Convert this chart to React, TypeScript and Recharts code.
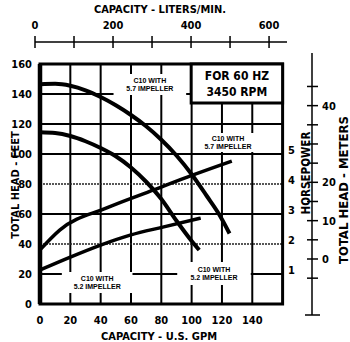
import { LineChart, Line, XAxis, YAxis, ReferenceLine, ReferenceArea } from 'recharts';

// capacity (US gpm) / head (ft) and horsepower curves
const head57 = [
  { q: 0, v: 146.5 }, { q: 10, v: 146.8 }, { q: 20, v: 145.5 }, { q: 30, v: 142.5 },
  { q: 40, v: 138 }, { q: 50, v: 132.5 }, { q: 60, v: 126 }, { q: 70, v: 118.5 },
  { q: 80, v: 109.5 }, { q: 90, v: 99 }, { q: 100, v: 86.5 }, { q: 110, v: 72 },
  { q: 118, v: 60 }, { q: 125, v: 47 },
];
const head52 = [
  { q: 0, v: 114.5 }, { q: 10, v: 114 }, { q: 20, v: 112 }, { q: 30, v: 108.5 },
  { q: 40, v: 104 }, { q: 50, v: 98.5 }, { q: 60, v: 91 }, { q: 70, v: 81.5 },
  { q: 80, v: 70 }, { q: 90, v: 55.5 }, { q: 100, v: 42 }, { q: 105, v: 36 },
];
const hp57 = [
  { q: 0, v: 1.67 }, { q: 13, v: 2.33 }, { q: 44, v: 3.07 }, { q: 75, v: 3.67 },
  { q: 101, v: 4.17 }, { q: 126.5, v: 4.63 },
];
const hp52 = [
  { q: 0, v: 1.0 }, { q: 20, v: 1.43 }, { q: 40, v: 1.83 }, { q: 60, v: 2.17 },
  { q: 81, v: 2.43 }, { q: 106, v: 2.73 },
];

const gpmTicks = [0, 20, 40, 60, 80, 100, 120, 140];
const gridGpm = [20, 40, 60, 80, 100, 120, 140];
const feetTicks = [0, 20, 40, 60, 80, 100, 120, 140, 160];
const gridFeet = [20, 40, 60, 80, 100, 120, 140];
const dottedFeet = [40, 80];
const literTicks = [0, 100, 200, 300, 400, 500, 600];
const literLabels = [0, 200, 400, 600];
const hpTicks = [1, 2, 3, 4, 5];
const meterTicks = [-5, 0, 5, 10, 15, 20, 25, 30, 35, 40, 45];
const meterLabels = [0, 10, 20, 40];

const FONT = "'DejaVu Sans Condensed', 'DejaVu Sans', sans-serif";
const SMALL = "'Liberation Sans', Arial, sans-serif";

function Title(props: any) {
  const { t, px, py, rot = 0, fs = 11 } = props;
  return (
    <text
      x={px}
      y={py}
      transform={rot ? `rotate(${rot} ${px} ${py})` : undefined}
      textAnchor="middle"
      dominantBaseline="central"
      fontFamily={FONT}
      fontWeight="bold"
      fontSize={fs}
      fill="#000"
    >
      {t}
    </text>
  );
}

function BoxText(props: any) {
  const { viewBox, rows, fs = 7, gap = 8, family = SMALL } = props;
  const cx = viewBox.x + viewBox.width / 2;
  const cy = viewBox.y + viewBox.height / 2;
  return (
    <text textAnchor="middle" fontFamily={family} fontWeight="bold" fontSize={fs} fill="#000">
      {rows.map((r: string, i: number) => (
        <tspan key={i} x={cx} y={cy + (i - (rows.length - 1) / 2) * gap + fs * 0.36}>
          {r}
        </tspan>
      ))}
    </text>
  );
}

function LiterTick(props: any) {
  const { x, payload } = props;
  return (
    <g>
      <line x1={x} x2={x} y1={36} y2={48} stroke="#000" strokeWidth={1.5} />
      {literLabels.includes(payload.value) && (
        <text x={x} y={29} textAnchor="middle" fontFamily={FONT} fontWeight="bold" fontSize={11} fill="#000">
          {payload.value}
        </text>
      )}
    </g>
  );
}

function MeterTick(props: any) {
  const { y, payload, index } = props;
  return (
    <g>
      {index === 0 && (
        <>
          <line x1={312} x2={312} y1={53} y2={315} stroke="#000" strokeWidth={1.5} />
          <line x1={305} x2={320} y1={315} y2={315} stroke="#000" strokeWidth={1.5} />
        </>
      )}
      <line x1={307} x2={318} y1={y} y2={y} stroke="#000" strokeWidth={1.5} />
      {meterLabels.includes(payload.value) && (
        <text x={322} y={y} dy="0.36em" fontFamily={FONT} fontWeight="bold" fontSize={11} fill="#000">
          {payload.value}
        </text>
      )}
    </g>
  );
}

const tickStyle = { fontSize: 11, fontWeight: 700, fontFamily: FONT, fill: '#000' };

export default function App() {
  return (
    <div style={{ position: 'absolute', left: 0, top: 0, width: 350, height: 342, background: '#fff' }}>
      <LineChart width={350} height={342} data={head57} margin={{ top: 0, right: 0, bottom: 0, left: 0 }}>
        <XAxis
          xAxisId="gpm"
          type="number"
          dataKey="q"
          domain={[-3.3, 162.9]}
          ticks={gpmTicks}
          interval={0}
          height={38}
          axisLine={false}
          tickLine={false}
          tickSize={0}
          tickMargin={12}
          tick={tickStyle}
          allowDataOverflow
          label={<Title t="CAPACITY - U.S. GPM" px={159} py={336} />}
        />
        <XAxis
          xAxisId="lpm"
          type="number"
          dataKey="q"
          orientation="top"
          domain={[0, 646]}
          ticks={literTicks}
          interval={0}
          height={42}
          axisLine={{ stroke: '#000', strokeWidth: 1.5 }}
          tickLine={false}
          tick={<LiterTick />}
          allowDataOverflow
          label={<Title t="CAPACITY - LITERS/MIN." px={160} py={9} />}
        />
        <YAxis
          yAxisId="ft"
          type="number"
          domain={[0, 174.67]}
          ticks={feetTicks}
          interval={0}
          width={35}
          axisLine={false}
          tickLine={false}
          tickSize={0}
          tickMargin={3}
          tick={tickStyle}
          allowDataOverflow
          label={<Title t="TOTAL HEAD - FEET" px={15} py={185} rot={-90} />}
        />
        <YAxis
          yAxisId="hp"
          type="number"
          orientation="right"
          domain={[-0.133, 8.6]}
          ticks={hpTicks}
          interval={0}
          width={25}
          axisLine={false}
          tickLine={false}
          tickSize={0}
          tickMargin={1}
          tick={tickStyle}
          allowDataOverflow
          label={<Title t="HORSEPOWER" px={306} py={173} rot={-90} fs={11.5} />}
        />
        <YAxis
          yAxisId="m"
          type="number"
          orientation="right"
          domain={[-11.74, 56.6]}
          ticks={meterTicks}
          interval={0}
          width={38}
          axisLine={false}
          tickLine={false}
          tick={<MeterTick />}
          allowDataOverflow
          label={<Title t="TOTAL HEAD - METERS" px={343} py={190} rot={-90} fs={13} />}
        />

        {gridGpm.map((g) => (
          <ReferenceLine
            key={'vx' + g}
            xAxisId="gpm"
            yAxisId="ft"
            segment={[{ x: g, y: 0 }, { x: g, y: 160 }]}
            stroke="#000"
            strokeWidth={2}
            zIndex={50}
          />
        ))}
        {gridFeet.map((f) => (
          <ReferenceLine
            key={'hy' + f}
            xAxisId="gpm"
            yAxisId="ft"
            segment={[{ x: 0, y: f }, { x: 160, y: f }]}
            stroke={dottedFeet.includes(f) ? '#222' : '#000'}
            strokeWidth={dottedFeet.includes(f) ? 1.5 : 2}
            strokeDasharray={dottedFeet.includes(f) ? '2 1' : undefined}
            zIndex={50}
          />
        ))}

        <ReferenceArea xAxisId="gpm" yAxisId="ft" x1={48.5} x2={96.4} y1={139.3} y2={153.3}
          fill="#fff" fillOpacity={1} stroke="none" zIndex={100}
          label={<BoxText rows={['C10 WITH', '5.7 IMPELLER']} />} />
        <ReferenceArea xAxisId="gpm" yAxisId="ft" x1={105} x2={143} y1={101.3} y2={114}
          fill="#fff" fillOpacity={1} stroke="none" zIndex={100}
          label={<BoxText rows={['C10 WITH', '5.7 IMPELLER']} />} />
        <ReferenceArea xAxisId="gpm" yAxisId="ft" x1={14.4} x2={61} y1={7.3} y2={21.3}
          fill="#fff" fillOpacity={1} stroke="none" zIndex={100}
          label={<BoxText rows={['C10 WITH', '5.2 IMPELLER']} />} />
        <ReferenceArea xAxisId="gpm" yAxisId="ft" x1={90.5} x2={139} y1={12.7} y2={28}
          fill="#fff" fillOpacity={1} stroke="none" zIndex={100}
          label={<BoxText rows={['C10 WITH', '5.2 IMPELLER']} />} />

        <Line xAxisId="gpm" yAxisId="ft" data={head57} dataKey="v" type="monotone" stroke="#000" strokeWidth={4} dot={false} isAnimationActive={false} />
        <Line xAxisId="gpm" yAxisId="ft" data={head52} dataKey="v" type="monotone" stroke="#000" strokeWidth={4} dot={false} isAnimationActive={false} />
        <Line xAxisId="gpm" yAxisId="hp" data={hp57} dataKey="v" type="monotone" stroke="#000" strokeWidth={3.5} dot={false} isAnimationActive={false} />
        <Line xAxisId="gpm" yAxisId="hp" data={hp52} dataKey="v" type="monotone" stroke="#000" strokeWidth={3.5} dot={false} isAnimationActive={false} />

        <ReferenceArea xAxisId="gpm" yAxisId="ft" x1={0} x2={160} y1={0} y2={160}
          fill="none" stroke="#000" strokeWidth={3} zIndex={450} />
        <ReferenceLine xAxisId="gpm" yAxisId="ft" segment={[{ x: 0, y: 0 }, { x: 0, y: 160 }]}
          stroke="#000" strokeWidth={4.5} zIndex={450} />
        <ReferenceArea xAxisId="gpm" yAxisId="ft" x1={99.7} x2={160} y1={134} y2={160}
          fill="#fff" fillOpacity={1} stroke="#000" strokeWidth={3} zIndex={460}
          label={<BoxText rows={['FOR 60 HZ', '3450 RPM']} fs={12} gap={16} family={FONT} />} />
      </LineChart>
    </div>
  );
}
